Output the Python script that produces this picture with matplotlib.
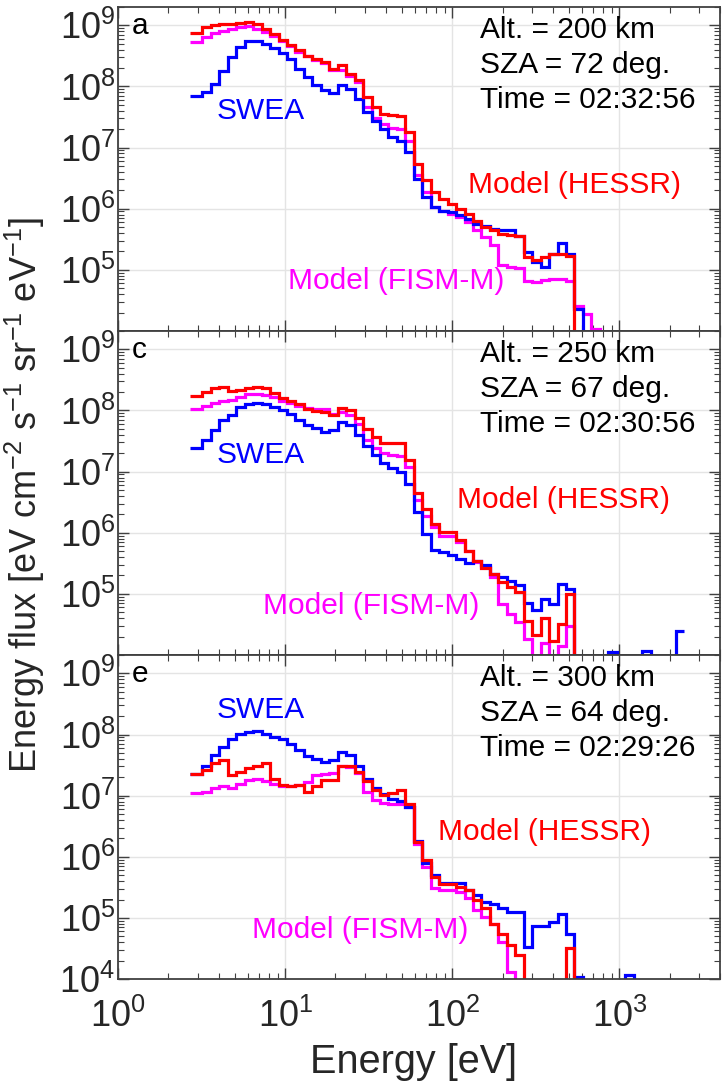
import numpy as np
import matplotlib
matplotlib.use("Agg")
import matplotlib.pyplot as plt
from matplotlib.ticker import LogLocator, FixedLocator, NullFormatter

plt.rcParams['font.family'] = ['Liberation Sans', 'DejaVu Sans']
plt.rcParams['mathtext.fontset'] = 'custom'
plt.rcParams['mathtext.rm'] = 'Liberation Sans'
plt.rcParams['mathtext.it'] = 'Liberation Sans:italic'
plt.rcParams['mathtext.bf'] = 'Liberation Sans:bold'
plt.rcParams['mathtext.default'] = 'regular'

# SWEA energy channels: constant dE/E spacing in log10(E [eV])
N_CHAN = 58
LOG_E_START = 0.429
LOG_E_BOUND0 = 0.505
DLOG_E = 0.0506

# ---- panel a: 200 km ----
swea_a = [6.9e7, 8.1e7, 1.1e8, 1.8e8, 3.0e8, 4.4e8, 5.5e8, 5.5e8, 5.0e8, 4.3e8,
          3.5e8, 2.8e8, 1.95e8, 1.4e8, 1.04e8, 8.6e7, 7.8e7, 1.04e8, 9.1e7, 6.3e7,
          3.8e7, 2.7e7, 2.0e7, 1.5e7, 1.3e7, 8.5e6, 3.1e6, 1.55e6, 1.06e6, 9.3e5,
          8.8e5, 7.8e5, 6.9e5, 5.7e5, 5.3e5, 4.7e5, 4.4e5, 4.4e5, 3.6e5, 1.95e5,
          1.34e5, 1.1e5, 1.8e5, 2.7e5, 1.8e5, 2.3e4]
hessr_a = [7.6e8, 9.2e8, 1.0e9, 1.04e9, 1.06e9, 1.1e9, 1.13e9, 1.06e9, 8.8e8, 7.1e8,
           5.8e8, 4.7e8, 3.9e8, 3.2e8, 2.8e8, 2.5e8, 1.9e8, 2.2e8, 1.6e8, 1.25e8,
           6.6e7, 4.6e7, 3.6e7, 3.4e7, 3.3e7, 1.8e7, 5.4e6, 2.9e6, 1.87e6, 1.46e6,
           1.2e6, 1.0e6, 8.3e5, 6.4e5, 5.0e5, 4.4e5, 3.9e5, 3.7e5, 3.6e5, 1.6e5,
           1.43e5, 1.6e5, 1.8e5, 1.8e5, 1.7e5]
fism_a = [5.3e8, 6.5e8, 7.5e8, 8.1e8, 8.6e8, 9.2e8, 9.6e8, 8.8e8, 7.8e8, 6.8e8,
          5.5e8, 4.5e8, 3.7e8, 3.1e8, 2.7e8, 2.4e8, 1.85e8, 1.85e8, 1.5e8, 1.2e8,
          4.6e7, 3.0e7, 2.4e7, 2.1e7, 2.0e7, 1.3e7, 3.5e6, 1.9e6, 1.06e6, 9.1e5,
          8.3e5, 7.3e5, 6.0e5, 4.4e5, 3.4e5, 2.5e5, 1.2e5, 1.12e5, 1.07e5, 6.5e4,
          6.3e4, 6.7e4, 7.1e4, 7.1e4, 6.5e4, 2.6e4, 1.9e4, 1.08e4]

# ---- panel c: 250 km ----
swea_c = [2.4e7, 3.3e7, 4.8e7, 7.0e7, 8.4e7, 1.15e8, 1.27e8, 1.34e8, 1.27e8, 1.15e8,
          1.0e8, 8.7e7, 7.0e7, 5.8e7, 5.1e7, 4.5e7, 4.8e7, 6.5e7, 5.8e7, 4.0e7,
          2.6e7, 1.9e7, 1.4e7, 1.15e7, 1.0e7, 6.3e6, 2.2e6, 9.7e5, 5.2e5, 4.8e5,
          4.3e5, 3.7e5, 3.2e5, 3.5e5, 3.0e5, 2.1e5, 1.9e5, 1.6e5, 1.4e5, 7.0e4,
          5.5e4, 8.3e4, 6.8e4, 1.46e5, 1.18e5, 0, 0, 0, 0, 1.1e4,
          0, 0, 0, 1.17e4, 0, 0, 0, 2.5e4]
hessr_c = [1.7e8, 2.0e8, 2.3e8, 2.4e8, 2.1e8, 2.2e8, 2.35e8, 2.4e8, 2.3e8, 1.9e8,
           1.57e8, 1.44e8, 1.27e8, 1.05e8, 9.9e7, 9.5e7, 8.4e7, 1.1e8, 1.0e8, 7.4e7,
           4.9e7, 3.7e7, 2.9e7, 2.9e7, 2.9e7, 1.53e7, 4.4e6, 2.4e6, 1.4e6, 1.02e6,
           1.02e6, 7.5e5, 5.1e5, 3.5e5, 2.6e5, 2.1e5, 1.55e5, 1.28e5, 1.06e5, 3.6e4,
           2.1e4, 4.0e4, 1.7e4, 3.2e4, 1.0e5]
fism_c = [1.04e8, 1.18e8, 1.34e8, 1.42e8, 1.51e8, 1.63e8, 1.83e8, 1.83e8, 1.78e8, 1.63e8,
          1.44e8, 1.3e8, 1.18e8, 1.08e8, 1.05e8, 1.04e8, 8.7e7, 9.5e7, 8.4e7, 6.1e7,
          3.3e7, 2.4e7, 2.0e7, 1.9e7, 1.8e7, 1.2e7, 3.4e6, 1.9e6, 1.23e6, 9.0e5,
          9.0e5, 7.0e5, 5.1e5, 3.3e5, 2.7e5, 1.86e5, 6.8e4, 4.7e4, 3.4e4, 1.8e4,
          0, 1.6e4, 0, 1.4e4, 3.0e4]

# ---- panel e: 300 km ----
swea_e = [2.25e7, 3.0e7, 4.6e7, 6.3e7, 8.4e7, 1.02e8, 1.11e8, 1.14e8, 1.02e8, 9.2e7,
          8.3e7, 7.1e7, 5.6e7, 4.5e7, 4.0e7, 3.6e7, 3.8e7, 5.2e7, 4.6e7, 3.0e7,
          1.9e7, 1.35e7, 1.05e7, 8.9e6, 8.3e6, 6.6e6, 1.8e6, 7.8e5, 5.0e5, 3.7e5,
          3.75e5, 3.7e5, 2.85e5, 2.35e5, 1.83e5, 1.72e5, 1.43e5, 1.26e5, 1.26e5, 3.3e4,
          7.5e4, 7.5e4, 8.6e4, 1.18e5, 5.5e4, 1.08e4, 0, 0, 0, 0,
          0, 1.15e4]
hessr_e = [2.3e7, 2.6e7, 3.4e7, 3.8e7, 2.2e7, 2.45e7, 2.8e7, 3.0e7, 3.4e7, 1.9e7,
           1.48e7, 1.43e7, 1.48e7, 1.16e7, 1.43e7, 1.8e7, 1.8e7, 3.0e7, 3.0e7, 2.45e7,
           1.75e7, 1.26e7, 1.02e7, 1.1e7, 1.23e7, 7.3e6, 1.76e6, 8.8e5, 4.7e5, 3.65e5,
           3.65e5, 3.2e5, 2.85e5, 1.95e5, 1.43e5, 8.1e4, 5.5e4, 3.6e4, 2.45e4, 0,
           0, 0, 0, 0, 3.2e4]
fism_e = [1.09e7, 1.16e7, 1.31e7, 1.43e7, 1.31e7, 1.55e7, 1.8e7, 1.84e7, 1.75e7, 1.58e7,
          1.43e7, 1.43e7, 1.48e7, 1.66e7, 2.2e7, 2.3e7, 2.35e7, 3.1e7, 2.95e7, 2.35e7,
          1.16e7, 8.5e6, 7.6e6, 7.2e6, 7.2e6, 6.6e6, 1.6e6, 6.9e5, 3.1e5, 2.85e5,
          2.85e5, 2.65e5, 2.1e5, 1.34e5, 1.04e5, 8.1e4, 4.1e4, 1.3e4]

panel_labels = ['a', 'c', 'e']
altitudes_km = [200, 250, 300]
sza_deg = [72, 67, 64]
times = ['02:32:56', '02:30:56', '02:29:26']
swea = [swea_a, swea_c, swea_e]
hessr = [hessr_a, hessr_c, hessr_e]
fism = [fism_a, fism_c, fism_e]

x_ticks = [1, 10, 100, 1000]

edges = 10 ** np.concatenate([[LOG_E_START], LOG_E_BOUND0 + DLOG_E * np.arange(N_CHAN)])


def padded(values):
    """Fill channels without counts so the step line drops out of the frame."""
    out = np.zeros(N_CHAN)
    out[:len(values)] = values
    return np.where(out > 0, out, 1.0)


BLUE, RED, MAGENTA = '#0000ff', '#ff0000', '#ff00ff'
AXIS_GRAY = '#404040'
TEXT_SIZE = 21.5

# text anchor positions (axes fraction) per panel
swea_pos = [(0.163, 0.654), (0.163, 0.593), (0.163, 0.806)]
hessr_pos = [(0.581, 0.426), (0.563, 0.454), (0.532, 0.429)]
fism_pos = [(0.282, 0.130), (0.241, 0.127), (0.223, 0.127)]

fig = plt.figure(figsize=(7.25, 10.9), dpi=100)
left, width, height = 0.1628, 0.8303, 0.2973
bottoms = [0.6964, 0.3991, 0.1018]

for i in range(3):
    ax = fig.add_axes([left, bottoms[i], width, height])
    ax.set_xscale('log')
    ax.set_yscale('log')

    ax.stairs(padded(fism[i]), edges, baseline=None, color=MAGENTA, lw=2.3, joinstyle='miter')
    ax.stairs(padded(swea[i]), edges, baseline=None, color=BLUE, lw=2.3, joinstyle='miter')
    ax.stairs(padded(hessr[i]), edges, baseline=None, color=RED, lw=2.3, joinstyle='miter')

    ax.set_xlim(1, 4000)
    ax.set_ylim(1e4, 2e9)

    ax.xaxis.set_major_locator(FixedLocator(x_ticks))
    ax.xaxis.set_minor_locator(LogLocator(base=10, subs=np.arange(2, 10), numticks=20))
    ax.xaxis.set_minor_formatter(NullFormatter())
    if i < 2:
        ax.yaxis.set_major_locator(FixedLocator([1e5, 1e6, 1e7, 1e8, 1e9]))
    else:
        ax.yaxis.set_major_locator(FixedLocator([1e4, 1e5, 1e6, 1e7, 1e8, 1e9]))
    ax.yaxis.set_minor_locator(LogLocator(base=10, subs=np.arange(2, 10), numticks=20))
    ax.yaxis.set_minor_formatter(NullFormatter())

    ax.grid(True, which='major', color='#e4e4e4', lw=1.0)
    ax.set_axisbelow(True)
    for s in ax.spines.values():
        s.set_color(AXIS_GRAY)
        s.set_linewidth(1.3)
    ax.tick_params(which='both', direction='in', top=True, right=True,
                   color=AXIS_GRAY, labelcolor='#262626', labelsize=26)
    ax.tick_params(which='major', length=8, width=1.0)
    ax.tick_params(which='minor', length=4, width=0.8)
    ax.tick_params(axis='y', pad=2)
    ax.tick_params(axis='x', pad=14)
    if i < 2:
        ax.tick_params(labelbottom=False)

    ax.text(0.023, 0.917, panel_labels[i], transform=ax.transAxes,
            fontsize=TEXT_SIZE, color='black', va='baseline', ha='left')
    info = [f'Alt. = {altitudes_km[i]} km', f'SZA = {sza_deg[i]} deg.', f'Time = {times[i]}']
    for k, line in enumerate(info):
        ax.text(0.601, 0.904 - 0.108 * k, line, transform=ax.transAxes,
                fontsize=TEXT_SIZE, color='black', va='baseline', ha='left')
    ax.text(*swea_pos[i], 'SWEA', transform=ax.transAxes, fontsize=TEXT_SIZE,
            color=BLUE, va='baseline', ha='left')
    ax.text(*hessr_pos[i], 'Model (HESSR)', transform=ax.transAxes, fontsize=TEXT_SIZE,
            color=RED, va='baseline', ha='left')
    ax.text(*fism_pos[i], 'Model (FISM-M)', transform=ax.transAxes, fontsize=TEXT_SIZE,
            color=MAGENTA, va='baseline', ha='left')

fig.text(left + width / 2 - 0.008, 0.0156, 'Energy [eV]', fontsize=28.5, color='#262626',
         ha='center', va='baseline')
fig.text(0.004, 1 - 495 / 1090, 'Energy flux [eV cm$^{-2}$ s$^{-1}$ sr$^{-1}$ eV$^{-1}$]',
         fontsize=26, color='#262626', rotation=90, ha='left', va='center')

fig.savefig('out.png', dpi=100)
